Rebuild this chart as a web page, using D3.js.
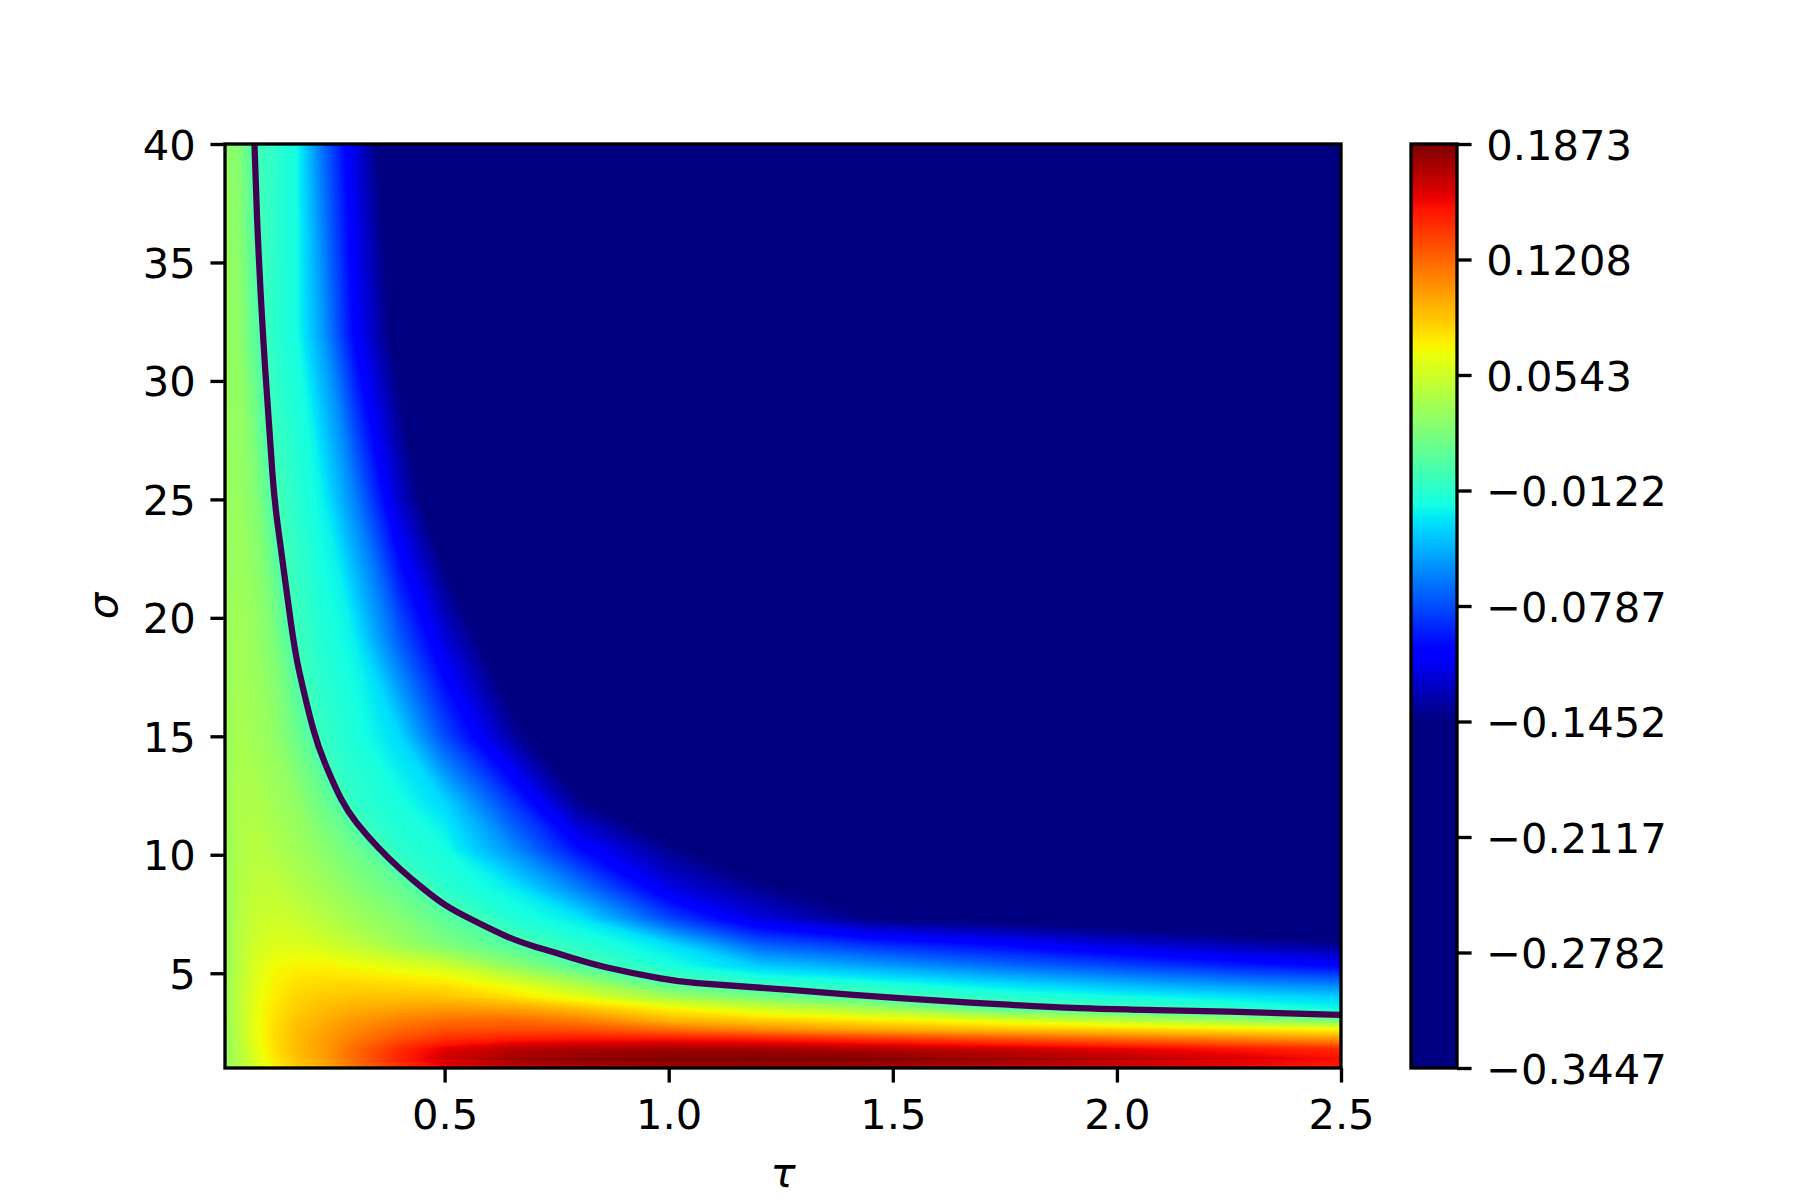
<!DOCTYPE html>
<html><head><meta charset="utf-8">
<script src="https://cdn.jsdelivr.net/npm/d3@7"></script>
<style>body{margin:0;background:#fff}</style>
</head><body>
<svg id="chart" width="1800" height="1200" xmlns="http://www.w3.org/2000/svg"></svg>
<script>
// ---------------- data ----------------
const tauValues   = [0.01, 0.04, 0.08, 0.12, 0.17, 0.23, 0.3, 0.4, 0.5, 0.65, 0.8, 1.0, 1.2, 1.45, 1.75, 2.0, 2.25, 2.5];
const sigmaValues = [1, 1.4, 1.8, 2.2, 2.6, 3.0, 3.5, 4.0, 4.6, 5.3, 6.2, 7.3, 8.6, 10.2, 12.2, 15, 19, 25, 32, 40];
// one row of field values per sigma value (same order as sigmaValues), columns follow tauValues
const fieldRows = [
  [0.031, 0.041, 0.058, 0.072, 0.085, 0.097, 0.115, 0.138, 0.155, 0.168, 0.173, 0.176, 0.177, 0.175, 0.169, 0.162, 0.154, 0.147],
  [0.032, 0.043, 0.061, 0.076, 0.089, 0.101, 0.120, 0.145, 0.163, 0.177, 0.183, 0.186, 0.1873, 0.185, 0.178, 0.170, 0.161, 0.152],
  [0.032, 0.044, 0.063, 0.078, 0.091, 0.102, 0.120, 0.142, 0.158, 0.170, 0.174, 0.177, 0.176, 0.172, 0.165, 0.158, 0.150, 0.142],
  [0.032, 0.045, 0.065, 0.079, 0.091, 0.101, 0.114, 0.130, 0.142, 0.148, 0.151, 0.151, 0.148, 0.140, 0.130, 0.122, 0.114, 0.106],
  [0.032, 0.046, 0.066, 0.079, 0.090, 0.099, 0.109, 0.121, 0.129, 0.131, 0.130, 0.120, 0.110, 0.100, 0.091, 0.085, 0.079, 0.073],
  [0.032, 0.047, 0.066, 0.078, 0.088, 0.096, 0.104, 0.112, 0.118, 0.120, 0.112, 0.094, 0.085, 0.075, 0.062, 0.049, 0.035, 0.020],
  [0.032, 0.047, 0.065, 0.076, 0.085, 0.091, 0.096, 0.100, 0.103, 0.100, 0.090, 0.072, 0.057, 0.038, 0.006, -0.002, -0.010, -0.022],
  [0.032, 0.047, 0.064, 0.074, 0.082, 0.086, 0.088, 0.089, 0.088, 0.078, 0.063, 0.037, 0.020, 0.001, -0.012, -0.020, -0.028, -0.036],
  [0.032, 0.047, 0.062, 0.072, 0.078, 0.080, 0.080, 0.078, 0.075, 0.060, 0.038, 0.003, -0.010, -0.018, -0.034, -0.047, -0.058, -0.065],
  [0.032, 0.046, 0.060, 0.068, 0.072, 0.072, 0.068, 0.062, 0.055, 0.030, 0.005, -0.018, -0.036, -0.050, -0.068, -0.080, -0.092, -0.103],
  [0.032, 0.045, 0.056, 0.060, 0.060, 0.056, 0.048, 0.035, 0.022, 0.004, -0.012, -0.030, -0.072, -0.088, -0.103, -0.118, -0.130, -0.140],
  [0.032, 0.044, 0.052, 0.054, 0.051, 0.045, 0.036, 0.025, 0.009, -0.015, -0.028, -0.080, -0.117, -0.143, -0.152, -0.160, -0.165, -0.170],
  [0.032, 0.043, 0.049, 0.048, 0.043, 0.036, 0.026, 0.012, -0.012, -0.026, -0.062, -0.115, -0.140, -0.160, -0.175, -0.185, -0.190, -0.195],
  [0.032, 0.042, 0.045, 0.042, 0.036, 0.027, 0.015, -0.012, -0.019, -0.056, -0.100, -0.140, -0.165, -0.185, -0.200, -0.210, -0.216, -0.220],
  [0.032, 0.041, 0.041, 0.036, 0.030, 0.014, -0.010, -0.019, -0.033, -0.085, -0.140, -0.170, -0.190, -0.210, -0.225, -0.233, -0.240, -0.245],
  [0.032, 0.039, 0.036, 0.030, 0.015, -0.008, -0.017, -0.033, -0.079, -0.134, -0.175, -0.210, -0.232, -0.250, -0.262, -0.270, -0.275, -0.280],
  [0.032, 0.037, 0.032, 0.022, -0.004, -0.015, -0.025, -0.073, -0.117, -0.170, -0.210, -0.240, -0.260, -0.275, -0.287, -0.293, -0.298, -0.302],
  [0.032, 0.033, 0.024, 0.000, -0.012, -0.025, -0.061, -0.123, -0.170, -0.215, -0.245, -0.270, -0.285, -0.298, -0.308, -0.314, -0.318, -0.322],
  [0.031, 0.030, 0.006, -0.012, -0.020, -0.054, -0.105, -0.155, -0.195, -0.235, -0.260, -0.285, -0.300, -0.312, -0.322, -0.327, -0.331, -0.334],
  [0.030, 0.026, -0.003, -0.010, -0.021, -0.069, -0.117, -0.170, -0.210, -0.250, -0.275, -0.300, -0.315, -0.327, -0.336, -0.340, -0.343, -0.3447]
];
const contourLevels = [0];
const xTicks = [0.5, 1.0, 1.5, 2.0, 2.5];
const yTicks = [5, 10, 15, 20, 25, 30, 35, 40];
const colorbarTicks = [0.1873, 0.1208, 0.0543, -0.0122, -0.0787, -0.1452, -0.2117, -0.2782, -0.3447];
const colorLimits = [-0.1452, 0.1873];
const xLabel = "τ", yLabel = "σ";

// ---------------- layout ----------------
const plot = {left: 225, right: 1341, top: 144, bottom: 1068};
const cbar = {left: 1411, right: 1457};
const FS = 41.67, LW = 3.33, TL = 14.58, PAD = 14.58;
const FONT = "'DejaVu Sans', Verdana, sans-serif";

const svg = d3.select("#chart");
const x = d3.scaleLinear().domain([0.01, 2.5]).range([plot.left, plot.right]);
const y = d3.scaleLinear().domain([1, 40]).range([plot.bottom, plot.top]);

// jet colormap (matplotlib segment data), quantised to 256 entries
const jetR = d3.scaleLinear().domain([0, 0.35, 0.66, 0.89, 1]).range([0, 0, 1, 1, 0.5]).clamp(true);
const jetG = d3.scaleLinear().domain([0, 0.125, 0.375, 0.64, 0.91, 1]).range([0, 0, 1, 1, 0, 0]).clamp(true);
const jetB = d3.scaleLinear().domain([0, 0.11, 0.34, 0.65, 1]).range([0.5, 1, 1, 0, 0]).clamp(true);
const jet = t => d3.rgb(Math.round(255 * jetR(t)), Math.round(255 * jetG(t)), Math.round(255 * jetB(t))).formatHex();
const [vmin, vmax] = colorLimits;
const lutIndex = v => Math.max(0, Math.min(255, Math.floor((v - vmin) / (vmax - vmin) * 256)));
const colorOf = v => jet(lutIndex(v) / 255);

// ---------------- field ----------------
const nx = tauValues.length, ny = sigmaValues.length;
const flat = [];
fieldRows.forEach(row => row.forEach(v => flat.push(v)));
const idxToTau = d3.scaleLinear().domain(d3.range(nx)).range(tauValues).clamp(true);
const idxToSigma = d3.scaleLinear().domain(d3.range(ny)).range(sigmaValues).clamp(true);
const project = (cx, cy) => [x(idxToTau(cx - 0.5)), y(idxToSigma(cy - 0.5))];
const path = d3.geoPath(d3.geoTransform({
  point(px, py) { const p = project(px, py); this.stream.point(p[0], p[1]); }
}));

const defs = svg.append("defs");
defs.append("clipPath").attr("id", "plotclip").append("rect")
  .attr("x", plot.left).attr("y", plot.top)
  .attr("width", plot.right - plot.left).attr("height", plot.bottom - plot.top);

const gField = svg.append("g").attr("clip-path", "url(#plotclip)");
gField.append("rect").attr("x", plot.left).attr("y", plot.top)
  .attr("width", plot.right - plot.left).attr("height", plot.bottom - plot.top)
  .attr("fill", jet(0));
const thresholds = d3.range(1, 256).map(k => vmin + k * (vmax - vmin) / 256);
const bands = d3.contours().size([nx, ny]).thresholds(thresholds)(flat);
gField.selectAll("path.band").data(bands).join("path")
  .attr("class", "band")
  .attr("d", path)
  .attr("fill", (d, i) => jet((i + 1) / 255))
  .attr("fill-rule", "evenodd");

// zero contour line
const isBoundary = p => p[0] <= 0 || p[0] >= nx || p[1] <= 0 || p[1] >= ny;
const lineGen = d3.line().curve(d3.curveBasis);
contourLevels.forEach(level => {
  const mp = d3.contours().size([nx, ny]).thresholds([level])(flat)[0];
  const runs = [];
  mp.coordinates.forEach(poly => poly.forEach(ring => {
    const pts = ring.slice(0, -1);
    const start = pts.findIndex(isBoundary);
    if (start < 0) { runs.push(ring); return; }
    let cur = [];
    for (let k = 1; k <= pts.length; k++) {
      const p = pts[(start + k) % pts.length];
      if (isBoundary(p)) { if (cur.length > 1) runs.push(cur); cur = []; }
      else cur.push(p);
    }
    if (cur.length > 1) runs.push(cur);
  }));
  runs.forEach(run => {
    gField.append("path")
      .attr("d", lineGen(run.map(p => project(p[0], p[1]))))
      .attr("fill", "none").attr("stroke", "#440154")
      .attr("stroke-width", 6.25).attr("stroke-linejoin", "round").attr("stroke-linecap", "butt");
  });
});

// ---------------- axes ----------------
const fmtMinus = s => s.replace("-", "\u2212");
function styleAxis(g) {
  g.select(".domain").remove();
  g.selectAll(".tick line").attr("stroke", "#000").attr("stroke-width", LW);
  g.selectAll(".tick text").attr("fill", "#000").style("font-family", FONT).style("font-size", FS + "px");
}
const gx = svg.append("g").attr("transform", `translate(0,${plot.bottom})`)
  .call(d3.axisBottom(x).tickValues(xTicks).tickSize(TL).tickPadding(PAD).tickFormat(d3.format(".1f")));
styleAxis(gx);
gx.selectAll(".tick text").attr("dy", "0.76em");

const gy = svg.append("g").attr("transform", `translate(${plot.left},0)`)
  .call(d3.axisLeft(y).tickValues(yTicks).tickSize(TL).tickPadding(PAD).tickFormat(d3.format("d")));
styleAxis(gy);
gy.selectAll(".tick text").attr("dy", "0.36em");

svg.append("rect").attr("x", plot.left).attr("y", plot.top)
  .attr("width", plot.right - plot.left).attr("height", plot.bottom - plot.top)
  .attr("fill", "none").attr("stroke", "#000").attr("stroke-width", LW);

svg.append("text").attr("x", (plot.left + plot.right) / 2).attr("y", 1187)
  .attr("text-anchor", "middle").style("font-family", FONT).style("font-style", "italic")
  .style("font-size", FS + "px").text(xLabel);
svg.append("text").attr("transform", `translate(117,${(plot.top + plot.bottom) / 2}) rotate(-90)`)
  .attr("text-anchor", "middle").style("font-family", FONT).style("font-style", "italic")
  .style("font-size", FS + "px").text(yLabel);

// ---------------- colorbar ----------------
const cb = d3.scaleLinear().domain([colorbarTicks[colorbarTicks.length - 1], colorbarTicks[0]]).range([plot.bottom, plot.top]);
const nSteps = Math.round(plot.bottom - plot.top);
const steps = d3.range(nSteps).map(i => cb.domain()[0] + (i + 0.5) * (cb.domain()[1] - cb.domain()[0]) / nSteps);
const stepH = (plot.bottom - plot.top) / nSteps;
svg.append("g").selectAll("rect").data(steps).join("rect")
  .attr("x", cbar.left).attr("width", cbar.right - cbar.left)
  .attr("y", d => cb(d) - stepH / 2 - 0.3).attr("height", stepH + 0.6)
  .attr("fill", d => colorOf(d));
svg.append("rect").attr("x", cbar.left).attr("y", plot.top)
  .attr("width", cbar.right - cbar.left).attr("height", plot.bottom - plot.top)
  .attr("fill", "none").attr("stroke", "#000").attr("stroke-width", LW);
const gcb = svg.append("g").attr("transform", `translate(${cbar.right},0)`)
  .call(d3.axisRight(cb).tickValues(colorbarTicks).tickSize(TL).tickPadding(PAD)
    .tickFormat(d => fmtMinus(d.toFixed(4))));
styleAxis(gcb);
gcb.selectAll(".tick text").attr("dy", "0.36em");
</script>
</body></html>
